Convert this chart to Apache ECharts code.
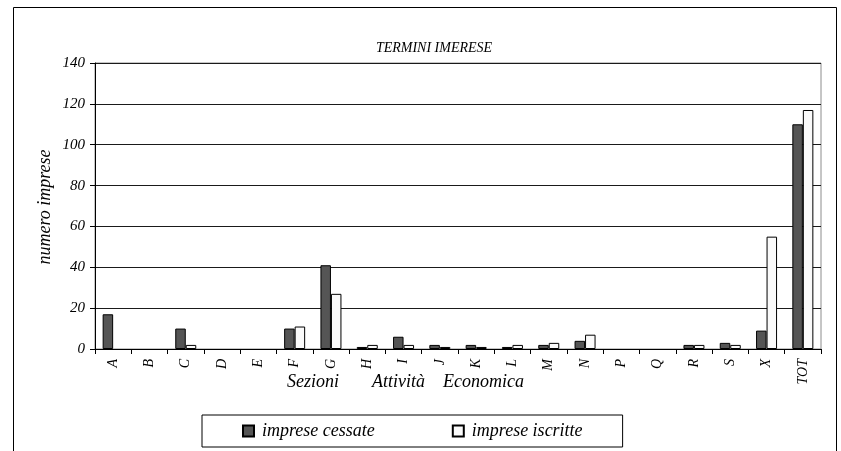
<!DOCTYPE html>
<html>
<head>
<meta charset="utf-8">
<script src="https://cdn.jsdelivr.net/npm/echarts@6/dist/echarts.min.js"></script>
<style>
  html, body { margin: 0; padding: 0; background: #fff; }
  #chart { width: 841px; height: 451px; }
</style>
</head>
<body>
<div id="chart"></div>
<script>
const sezioni = ['A', 'B', 'C', 'D', 'E', 'F', 'G', 'H', 'I', 'J', 'K', 'L', 'M', 'N', 'P', 'Q', 'R', 'S', 'X', 'TOT'];
const cessate = [17, 0, 10, 0, 0, 10, 41, 1, 6, 2, 2, 1, 2, 4, 0, 0, 2, 3, 9, 110];
const iscritte = [0, 0, 2, 0, 0, 11, 27, 2, 2, 1, 1, 2, 3, 7, 0, 0, 2, 2, 55, 117];
const yTicks = [0, 20, 40, 60, 80, 100, 120, 140];
const xNameWords = ['Sezioni', 'Attività', 'Economica'];

const serif = '"Liberation Serif", "DejaVu Serif", serif';

// zero bars are not drawn in the original (no empty outline)
const noZero = arr => arr.map(v => (v === 0 ? null : v));

const chart = echarts.init(document.getElementById('chart'), null, { renderer: 'canvas' });

const xNameX = [287, 372, 443];
const wordLabels = xNameWords.map((w, i) => ({
    type: 'text',
    x: xNameX[i], y: 382,
    style: {
        text: w,
        fontFamily: serif, fontStyle: 'italic', fontSize: 18, fill: '#000',
        textAlign: 'left', textVerticalAlign: 'middle'
    }
}));

const option = {
    backgroundColor: '#fff',
    animation: false,
    title: {
        text: 'TERMINI IMERESE',
        left: 429,
        top: 36,
        textAlign: 'center',
        textStyle: { fontFamily: serif, fontStyle: 'italic', fontWeight: 'normal', fontSize: 14, color: '#000' }
    },
    grid: {
        left: 95, right: 20, top: 63, bottom: 102,
        show: true, borderColor: '#8c8c8c', borderWidth: 1
    },
    legend: {
        left: 202,
        top: 415,
        padding: [7, 40, 7, 40],
        itemGap: 77,
        itemWidth: 11,
        itemHeight: 11,
        icon: 'rect',
        borderColor: '#000',
        borderWidth: 1,
        textStyle: { fontFamily: serif, fontStyle: 'italic', fontSize: 18, color: '#000', padding: [0, 0, 0, 3] },
        data: ['imprese cessate', 'imprese iscritte']
    },
    xAxis: {
        type: 'category',
        data: sezioni,
        axisLine: { lineStyle: { color: '#000', width: 1 } },
        axisTick: { show: true, alignWithLabel: false, length: 5, lineStyle: { color: '#000' } },
        axisLabel: {
            rotate: 90, margin: 10, interval: 0,
            fontFamily: serif, fontStyle: 'italic', fontSize: 14, color: '#000'
        }
    },
    yAxis: {
        type: 'value',
        min: yTicks[0],
        max: yTicks[yTicks.length - 1],
        interval: 20,
        axisLine: { show: true, lineStyle: { color: '#000', width: 1 } },
        axisTick: { show: true, length: 5, lineStyle: { color: '#000' } },
        axisLabel: { margin: 10, fontFamily: serif, fontStyle: 'italic', fontSize: 15, color: '#000' },
        splitLine: { lineStyle: { color: '#1a1a1a', width: 1 } }
    },
    series: [{
        name: 'imprese cessate',
        type: 'bar',
        data: noZero(cessate),
        barWidth: 10.5,
        barGap: '0%',
        itemStyle: { color: '#555555', borderColor: '#000', borderWidth: 1 }
    }, {
        name: 'imprese iscritte',
        type: 'bar',
        data: noZero(iscritte),
        barWidth: 10.5,
        barGap: '0%',
        itemStyle: { color: '#fafafa', borderColor: '#000', borderWidth: 1 }
    }],
    graphic: [{
        type: 'rect',
        shape: { x: 13.5, y: 7.5, width: 823, height: 460 },
        style: { fill: null, stroke: '#000', lineWidth: 1 },
        silent: true, z: 0
    }, {
        type: 'text',
        x: 45, y: 207,
        rotation: Math.PI / 2,
        style: {
            text: 'numero imprese',
            fontFamily: serif, fontStyle: 'italic', fontSize: 18, fill: '#000',
            textAlign: 'center', textVerticalAlign: 'middle'
        }
    }].concat(wordLabels)
};

chart.setOption(option);
</script>
</body>
</html>
